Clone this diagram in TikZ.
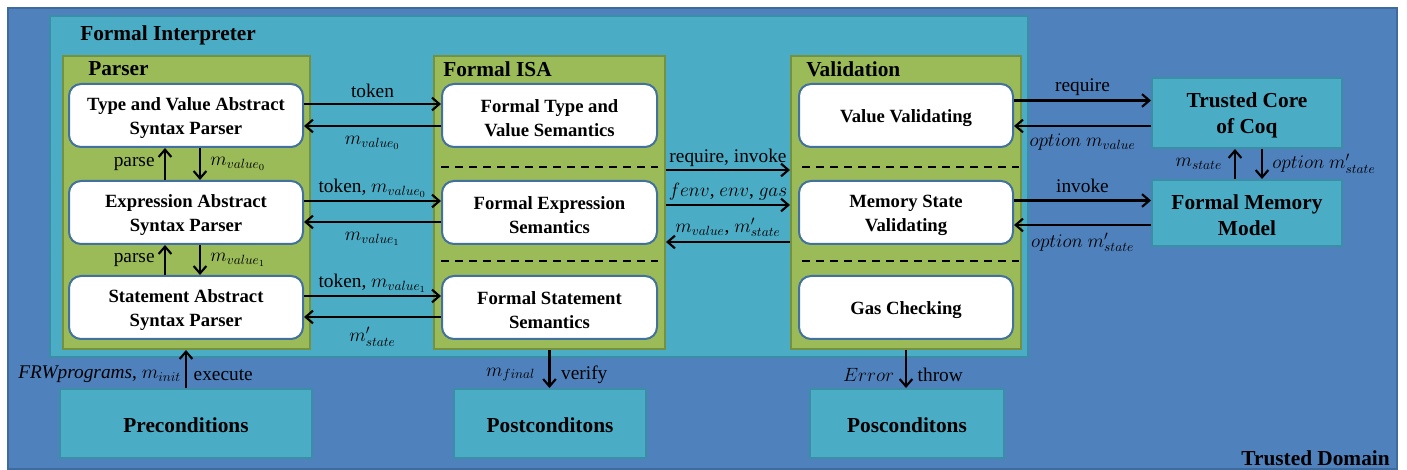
\documentclass[tikz,border=0pt]{standalone}
\usepackage{fontspec}
\setmainfont{Liberation Serif}
\usetikzlibrary{arrows.meta,fit,calc}
\definecolor{tdblue}{HTML}{4F81BD}
\definecolor{tdborder}{HTML}{3E6A9C}
\definecolor{cteal}{HTML}{4BACC6}
\definecolor{ctealb}{HTML}{3A8EA5}
\definecolor{cgreen}{HTML}{9BBB59}
\definecolor{cgreenb}{HTML}{74913F}
\definecolor{cnodeb}{HTML}{41719C}
\tikzset{
  tdbox/.style={draw=tdborder, line width=1.2pt, fill=tdblue, inner sep=0pt},
  fibox/.style={draw=ctealb, line width=1.5pt, fill=cteal, inner sep=0pt},
  grbox/.style={draw=cgreenb, line width=1.5pt, fill=cgreen, inner sep=0pt},
  wbox/.style={draw=cnodeb, line width=1.5pt, fill=white, rounded corners=9pt, inner sep=0pt},
  wtext/.style={align=center, inner sep=0pt, yshift=-2.2pt, font=\fontsize{14}{18}\selectfont\bfseries},
  cbox/.style={draw=ctealb, line width=1.5pt, fill=cteal, inner sep=0pt},
  ctext/.style={align=center, inner sep=0pt, yshift=-1.5pt, font=\fontsize{16}{19.5}\selectfont\bfseries},
  ttl/.style={font=\fontsize{16}{19}\selectfont\bfseries, inner sep=0pt},
  lbl/.style={font=\fontsize{14.5}{16}\selectfont, inner sep=1pt},
  arr/.style={line width=1.6pt, -{Straight Barb[length=5.5pt,width=9.5pt,line width=1.6pt]}},
  dline/.style={line width=1.5pt, dash pattern=on 6pt off 4.5pt}
}
\begin{document}
\begin{tikzpicture}[x=0.75pt,y=-0.75pt]
\useasboundingbox (0,0) rectangle (1407,470);
% containers
\node[tdbox, fit={(8,8)(1397,469)}] (td) {};
\node[fibox, fit={(50,16)(1028,357)}] (fi) {};
\node[grbox, fit={(63,56)(310,349)}] (parser) {};
\node[grbox, fit={(434,56)(665,349)}] (isa) {};
\node[grbox, fit={(791,56)(1021,349)}] (val) {};
% titles
\node[ttl, anchor=west] (fititle) at (80,35) {Formal Interpreter};
\node[ttl, anchor=west] (ptitle) at (88,69) {Parser};
\node[ttl, anchor=west] (isatitle) at (443,69) {Formal ISA};
\node[ttl, anchor=west] (vtitle) at (806,69) {Validation};
\node[ttl, anchor=east] (tdtitle) at (1390,458) {Trusted Domain};
% parser nodes
\node[wbox, fit={(69,84)(303,147)}, label={[wtext]center:Type and Value Abstract\\Syntax Parser}] (tvp) {};
\node[wbox, fit={(69,181)(303,244)}, label={[wtext]center:Expression Abstract\\Syntax Parser}] (exp) {};
\node[wbox, fit={(69,276)(303,339)}, label={[wtext]center:Statement Abstract\\Syntax Parser}] (stp) {};
% ISA nodes
\node[wbox, fit={(442,84)(657,147)}, label={[wtext]center:Formal Type and\\Value Semantics}] (tvs) {};
\node[wbox, fit={(442,181)(657,244)}, label={[wtext]center:Formal Expression\\Semantics}] (exs) {};
\node[wbox, fit={(442,276)(657,339)}, label={[wtext]center:Formal Statement\\Semantics}] (sts) {};
% validation nodes
\node[wbox, fit={(799,84)(1013,147)}, label={[wtext]center:Value Validating}] (vv) {};
\node[wbox, fit={(799,181)(1013,244)}, label={[wtext]center:Memory State\\Validating}] (mv) {};
\node[wbox, fit={(799,276)(1013,339)}, label={[wtext]center:Gas Checking}] (gc) {};
% dashed separators
\draw[dline] (441,167) -- (658,167);
\draw[dline] (441,261) -- (658,261);
\draw[dline] (802,167) -- (1019,167);
\draw[dline] (802,261) -- (1019,261);
% trusted boxes
\node[cbox, fit={(1152,78)(1342,148)}, label={[ctext]center:Trusted Core\\of Coq}] (coq) {};
\node[cbox, fit={(1152,180)(1342,246)}, label={[ctext]center:Formal Memory\\Model}] (fmm) {};
% bottom boxes
\node[cbox, fit={(60,389)(312,458)}, label={[ctext]center:Preconditions}] (pre) {};
\node[cbox, fit={(454,389)(646,458)}, label={[ctext]center:Postconditons}] (post) {};
\node[cbox, fit={(810,389)(1004,458)}, label={[ctext]center:Posconditons}] (pos) {};
% parser <-> ISA
\draw[arr] ($(tvp.east)+(0,-11.5)$) -- ($(tvs.west)+(0,-11.5)$) node[lbl, midway, above=3pt] {token};
\draw[arr] ($(tvs.west)+(0,10.5)$) -- ($(tvp.east)+(0,10.5)$) node[lbl, midway, below=6pt] {$m_{value_0}$};
\draw[arr] ($(exp.east)+(0,-11.5)$) -- ($(exs.west)+(0,-11.5)$) node[lbl, midway, above=1pt] {token, $m_{value_0}$};
\draw[arr] ($(exs.west)+(0,9.5)$) -- ($(exp.east)+(0,9.5)$) node[lbl, midway, below=6pt] {$m_{value_1}$};
\draw[arr] ($(stp.east)+(0,-11.5)$) -- ($(sts.west)+(0,-11.5)$) node[lbl, midway, above=1pt] {token, $m_{value_1}$};
\draw[arr] ($(sts.west)+(0,9.5)$) -- ($(stp.east)+(0,9.5)$) node[lbl, midway, below=6pt] {$m'_{state}$};
% parser vertical
\draw[arr] ($(exp.north)+(-21,0)$) -- ($(tvp.south)+(-21,0)$) node[lbl, midway, left=6pt] {parse};
\draw[arr] ($(tvp.south)+(14,0)$) -- ($(exp.north)+(14,0)$) node[lbl, midway, right=6pt] {$m_{value_0}$};
\draw[arr] ($(stp.north)+(-21,0)$) -- ($(exp.south)+(-21,0)$) node[lbl, midway, left=6pt] {parse};
\draw[arr] ($(exp.south)+(14,0)$) -- ($(stp.north)+(14,0)$) node[lbl, midway, right=6pt] {$m_{value_1}$};
% ISA <-> validation
\draw[arr] ($(isa.east)+(0,-32.5)$) -- ($(val.west)+(0,-32.5)$) node[lbl, midway, above=1pt] {require, invoke};
\draw[arr] ($(isa.east)+(0,2.5)$) -- ($(val.west)+(0,2.5)$) node[lbl, midway, above=2pt] {$fenv$, $env$, $gas$};
\draw[arr] ($(val.west)+(0,39.5)$) -- ($(isa.east)+(0,39.5)$) node[lbl, midway, above=2pt] {$m_{value}$, $m'_{state}$};
% validation <-> trusted
\draw[arr] ($(vv.east)+(0,-15)$) -- ($(coq.west)+(0,-12.5)$) node[lbl, midway, above=2pt] {require};
\draw[arr] ($(coq.west)+(0,13)$) -- ($(vv.east)+(0,10.5)$) node[lbl, midway, below=4pt] {$option\ m_{value}$};
\draw[arr] ($(mv.east)+(0,-12)$) -- ($(fmm.west)+(0,-12.5)$) node[lbl, midway, above=4pt] {invoke};
\draw[arr] ($(fmm.west)+(0,12)$) -- ($(mv.east)+(0,12.5)$) node[lbl, midway, below=4pt] {$option\ m'_{state}$};
% coq <-> memory model
\draw[arr] ($(fmm.north)+(-12,0)$) -- ($(coq.south)+(-12,0)$) node[lbl, midway, left=8pt] {$m_{state}$};
\draw[arr] ($(coq.south)+(15,0)$) -- ($(fmm.north)+(15,0)$) node[lbl, midway, right=6pt] {$option\ m'_{state}$};
% bottom
\draw[arr] (pre.north) -- (pre.north |- parser.south)
  node[lbl, pos=0.35, left=2pt] {\textit{FRWprograms}, $m_{init}$}
  node[lbl, pos=0.35, right=4pt] {execute};
\draw[arr] (isa.south) -- (isa.south |- post.north)
  node[lbl, pos=0.65, left=9pt] {$m_{final}$}
  node[lbl, pos=0.65, right=7pt] {verify};
\draw[arr] (val.south) -- (val.south |- pos.north)
  node[lbl, pos=0.65, left=7pt] {$Error$}
  node[lbl, pos=0.65, right=7pt] {throw};
\end{tikzpicture}
\end{document}
